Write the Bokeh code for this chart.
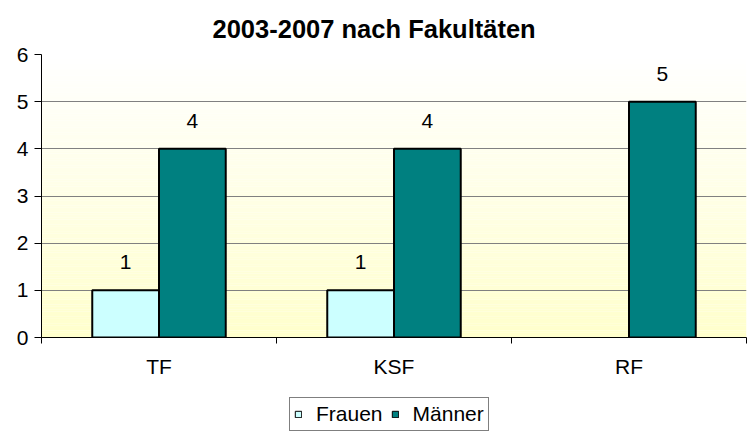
from bokeh.plotting import figure
from bokeh.layouts import column
from bokeh.models import (Range1d, BoxAnnotation, Legend, LegendItem,
                          ColumnDataSource, FixedTicker, Title)
from bokeh.core.properties import value
from bokeh.embed import file_html
from bokeh.resources import INLINE

# ---- data ----
categories = ["TF", "KSF", "RF"]
frauen = [1, 1, 0]
maenner = [4, 4, 5]
series_names = ["Frauen", "Männer"]
series_colors = ["#CCFFFF", "#008080"]
title_text = "2003-2007 nach Fakultäten"
y_ticks = [0, 1, 2, 3, 4, 5, 6]

FONT = "Liberation Sans"
FS = "21px"
ncat = len(categories)
centers = [i + 0.5 for i in range(ncat)]
OFF = 0.142
BW = 0.284

p = figure(x_range=Range1d(0, ncat), y_range=Range1d(0, 6),
           width=747, height=380, output_backend="svg", toolbar_location=None,
           min_border_left=41, min_border_right=1, min_border_top=54, min_border_bottom=43)
p.title = Title(text=title_text, align="left", text_font=FONT,
                text_font_size="25.5px", text_font_style="bold", text_color="#000000",
                offset=171, standoff=23)
p.outline_line_color = None
p.background_fill_color = "#FFFFFF"
p.border_fill_color = "#FFFFFF"

# gradient background (white top -> light yellow bottom)
n = 120
for i in range(n):
    t = i / (n - 1)
    b = int(round(0xCC + (0xFF - 0xCC) * t))
    col = "#FFFF%02X" % b
    p.add_layout(BoxAnnotation(bottom=6 * i / n, top=6 * (i + 1) / n + 0.001,
                               fill_color=col, fill_alpha=1.0, line_color=None,
                               level="image"))

series = [frauen, maenner]
offsets = [-OFF, OFF]
for vals, off, colr in zip(series, offsets, series_colors):
    xs = [c + off for c, v in zip(centers, vals) if v > 0]
    vs = [v for v in vals if v > 0]
    src = ColumnDataSource(dict(x=xs, top=vs, t=[str(v) for v in vs]))
    p.vbar(x="x", top="top", width=BW, source=src, fill_color=colr,
           line_color="#000000", line_width=2)
    p.text(x="x", y="top", text="t", source=src,
           text_font=value(FONT), text_font_size=FS, text_color="#000000",
           text_align="center", text_baseline="alphabetic", y_offset=-28)

# grid
p.xgrid.grid_line_color = None
p.ygrid.grid_line_color = "#808080"
p.ygrid.grid_line_width = 1
p.ygrid.ticker = FixedTicker(ticks=y_ticks)

# y axis
p.yaxis.ticker = FixedTicker(ticks=y_ticks)
p.yaxis.axis_line_color = "#000000"
p.yaxis.major_tick_line_color = "#000000"
p.yaxis.major_tick_out = 7
p.yaxis.major_tick_in = 0
p.yaxis.minor_tick_line_color = None
p.yaxis.major_label_standoff = 6
p.yaxis.major_label_text_font = FONT
p.yaxis.major_label_text_font_size = FS
p.yaxis.major_label_text_color = "#000000"

# x axis: labels at category centers, tick marks at category boundaries
p.xaxis.ticker = FixedTicker(ticks=centers, minor_ticks=list(range(ncat + 1)))
p.xaxis.major_label_overrides = {c: name for c, name in zip(centers, categories)}
p.xaxis.axis_line_color = "#000000"
p.xaxis.major_tick_line_color = None
p.xaxis.major_tick_out = 0
p.xaxis.major_tick_in = 0
p.xaxis.minor_tick_line_color = "#000000"
p.xaxis.minor_tick_out = 6
p.xaxis.minor_tick_in = 0
p.xaxis.major_label_standoff = 11
p.xaxis.major_label_text_font = FONT
p.xaxis.major_label_text_font_size = FS
p.xaxis.major_label_text_color = "#000000"

# legend figure
q = figure(x_range=Range1d(0, 1), y_range=Range1d(0, 1), width=747, height=58,
           output_backend="svg", toolbar_location=None,
           x_axis_location=None, y_axis_location=None,
           min_border_left=0, min_border_right=0, min_border_top=0, min_border_bottom=0)
q.grid.grid_line_color = None
q.outline_line_color = None
lr = []
for c in series_colors:
    e = ColumnDataSource(dict(x=[-5], top=[0]))
    lr.append(q.vbar(x="x", top="top", width=0.1, source=e, fill_color=c,
                     line_color="#000000", line_width=1))
legend = Legend(items=[LegendItem(label=n_, renderers=[r]) for n_, r in zip(series_names, lr)],
                orientation="horizontal", location=(248, 7),
                border_line_color="#000000", border_line_width=1,
                label_text_font=FONT, label_text_font_size=FS, label_text_color="#000000",
                glyph_width=8, glyph_height=8, spacing=8, padding=4,
                label_standoff=14, margin=0, background_fill_alpha=1)
q.add_layout(legend, "center")

open("out.html", "w").write(file_html(column(p, q, spacing=0), INLINE))
